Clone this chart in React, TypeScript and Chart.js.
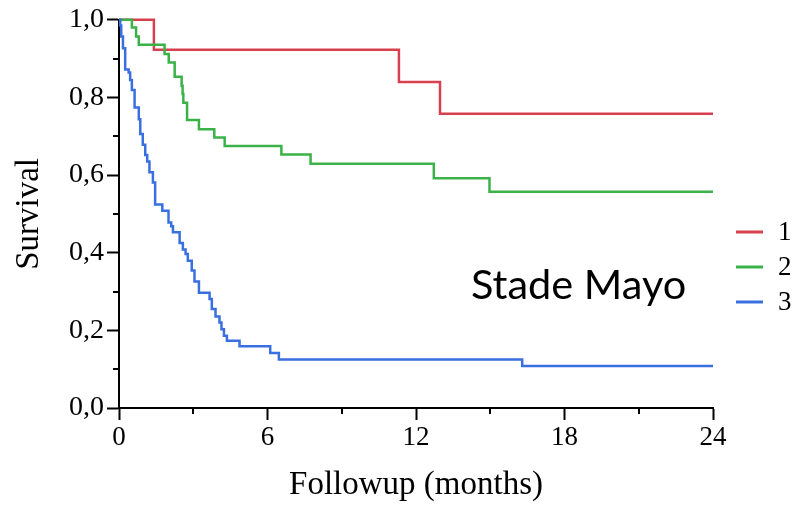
import React, { useEffect, useRef } from 'react';
import { Chart, registerables } from 'chart.js';

Chart.register(...registerables);

// ---- Data ----
const xMajorTicks = [0, 6, 12, 18, 24];
const xMinorTicks = [3, 9, 15, 21];
const yMajorTicks = [0, 0.2, 0.4, 0.6, 0.8, 1.0];
const yMinorTicks = [0.1, 0.3, 0.5, 0.7, 0.9];

const seriesLabels = ['1', '2', '3'];
const seriesColors = ['#d6404f', '#3ab248', '#3a6fe0'];

const stage1Times = [0, 1.41, 11.31, 12.97, 24];
const stage1Survival = [1, 0.923, 0.84, 0.758, 0.758];

const stage2Times = [0, 0.52, 0.69, 0.8, 1.84, 2.01, 2.25, 2.53, 2.57, 2.6, 2.75, 3.23, 3.85, 4.27, 6.56, 7.74, 12.72, 14.97, 24];
const stage2Survival = [1, 0.98, 0.957, 0.936, 0.912, 0.89, 0.853, 0.83, 0.809, 0.786, 0.742, 0.718, 0.697, 0.675, 0.653, 0.629, 0.592, 0.557, 0.557];

const stage3Times = [0, 0.05, 0.09, 0.16, 0.25, 0.39, 0.45, 0.52, 0.63, 0.8, 0.86, 0.96, 1.06, 1.14, 1.23, 1.37, 1.46, 1.75, 2.0, 2.11, 2.18, 2.45, 2.58, 2.69, 2.78, 2.94, 3.05, 3.23, 3.66, 3.75, 3.9, 4.06, 4.14, 4.24, 4.36, 4.87, 6.11, 6.46, 16.29, 24];
const stage3Survival = [1, 0.985, 0.957, 0.927, 0.872, 0.864, 0.845, 0.819, 0.774, 0.744, 0.706, 0.678, 0.652, 0.635, 0.607, 0.581, 0.524, 0.508, 0.478, 0.468, 0.453, 0.425, 0.408, 0.397, 0.379, 0.354, 0.326, 0.297, 0.281, 0.255, 0.236, 0.22, 0.203, 0.186, 0.173, 0.159, 0.142, 0.125, 0.108, 0.108];

const annotationText = 'Stade Mayo';
const xTitle = 'Followup (months)';
const yTitle = 'Survival';

const toPoints = (xs: number[], ys: number[]) => xs.map((x, i) => ({ x, y: ys[i] }));

const extrasPlugin = {
  id: 'extras',
  afterDraw(chart: any) {
    const { ctx, chartArea, scales } = chart;
    const xs = scales.x;
    const ys = scales.y;
    ctx.save();
    // minor ticks
    ctx.strokeStyle = '#000';
    ctx.lineWidth = 2;
    ctx.beginPath();
    xMinorTicks.forEach((v) => {
      const px = Math.round(xs.getPixelForValue(v));
      ctx.moveTo(px, chartArea.bottom);
      ctx.lineTo(px, chartArea.bottom + 6);
    });
    yMinorTicks.forEach((v) => {
      const py = Math.round(ys.getPixelForValue(v));
      ctx.moveTo(chartArea.left, py);
      ctx.lineTo(chartArea.left - 6, py);
    });
    ctx.stroke();

    // legend
    const legX = chartArea.right + 23;
    const legY0 = 232;
    const legStep = 35;
    chart.data.datasets.forEach((ds: any, i: number) => {
      const y = legY0 + i * legStep;
      ctx.strokeStyle = ds.borderColor;
      ctx.lineWidth = 3;
      ctx.beginPath();
      ctx.moveTo(legX, y);
      ctx.lineTo(legX + 27, y);
      ctx.stroke();
      ctx.fillStyle = '#000';
      ctx.font = '27px "Liberation Serif"';
      ctx.textBaseline = 'middle';
      ctx.textAlign = 'left';
      ctx.fillText(ds.label, legX + 42, y + 1);
    });

    // annotation
    ctx.fillStyle = '#000';
    ctx.font = '41.5px Lato';
    ctx.textBaseline = 'alphabetic';
    ctx.textAlign = 'left';
    ctx.fillText(annotationText, 471, 299);
    ctx.restore();
  },
};

export default function App() {
  const canvasRef = useRef<HTMLCanvasElement | null>(null);

  useEffect(() => {
    if (!canvasRef.current) return;
    const xTickFont = { family: '"Liberation Serif"', size: 27 };
    const yTickFont = { family: '"Liberation Serif"', size: 28 };
    const titleFont = { family: '"Liberation Serif"', size: 33 };
    const chart = new Chart(canvasRef.current, {
      type: 'line',
      data: {
        datasets: [
          { label: seriesLabels[0], data: toPoints(stage1Times, stage1Survival), borderColor: seriesColors[0], order: 3 },
          { label: seriesLabels[1], data: toPoints(stage2Times, stage2Survival), borderColor: seriesColors[1], order: 2 },
          { label: seriesLabels[2], data: toPoints(stage3Times, stage3Survival), borderColor: seriesColors[2], order: 1 },
        ].map((d) => ({
          ...d,
          stepped: 'before' as const,
          borderWidth: 2.5,
          pointRadius: 0,
          fill: false,
          clip: 6,
        })),
      },
      options: {
        animation: false,
        responsive: true,
        maintainAspectRatio: false,
        layout: { padding: { top: 19, right: 86, bottom: 0, left: 0 } },
        plugins: { legend: { display: false }, tooltip: { enabled: false } },
        scales: {
          x: {
            type: 'linear',
            min: 0,
            max: 24,
            afterBuildTicks: (scale: any) => {
              scale.ticks = xMajorTicks.map((v) => ({ value: v }));
            },
            afterFit: (scale: any) => {
              scale.height = 97;
            },
            ticks: { font: xTickFont, color: '#000', padding: 2, maxRotation: 0, autoSkip: false },
            grid: { display: true, drawOnChartArea: false, drawTicks: true, tickLength: 12, tickColor: '#000', tickWidth: 2 },
            border: { display: true, color: '#000', width: 2 },
            title: { display: true, text: xTitle, font: titleFont, color: '#000', padding: { top: 0, bottom: 0 } },
          },
          y: {
            type: 'linear',
            min: 0,
            max: 1,
            afterBuildTicks: (scale: any) => {
              scale.ticks = yMajorTicks.map((v) => ({ value: v }));
            },
            afterFit: (scale: any) => {
              scale.width = 119;
            },
            ticks: {
              font: yTickFont,
              color: '#000',
              padding: 3,
              callback: (v: any) => Number(v).toFixed(1).replace('.', ','),
            },
            grid: { display: true, drawOnChartArea: false, drawTicks: true, tickLength: 12, tickColor: '#000', tickWidth: 2 },
            border: { display: true, color: '#000', width: 2 },
            title: { display: true, text: yTitle, font: titleFont, color: '#000', padding: { top: 10, bottom: 0 } },
          },
        },
      },
      plugins: [extrasPlugin],
    } as any);
    return () => chart.destroy();
  }, []);

  return (
    <div style={{ width: 799, height: 505, position: 'relative', background: '#fff' }}>
      <style>{`body{margin:0}`}</style>
      <canvas ref={canvasRef} />
    </div>
  );
}
